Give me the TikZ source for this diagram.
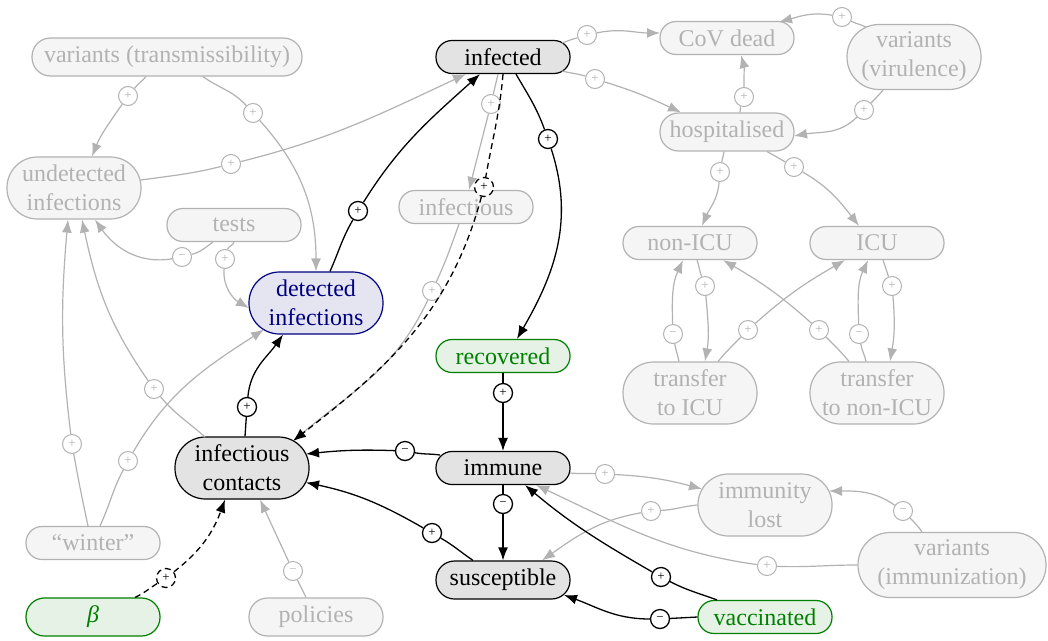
\documentclass[tikz,border=0pt]{standalone}
\usepackage{fontspec}
\setmainfont{Liberation Serif}
\usetikzlibrary{arrows.meta}
\definecolor{gfill}{gray}{0.96}
\definecolor{gline}{gray}{0.7}
\definecolor{bfill}{gray}{0.89}
\definecolor{mygreen}{RGB}{0,128,0}
\definecolor{mynavy}{RGB}{0,0,128}
\begin{document}
\begin{tikzpicture}[x=1pt,y=1pt,
 box/.style={rectangle, minimum width=134pt, minimum height=33pt, rounded corners=16pt, inner xsep=2pt, inner ysep=2pt, align=center, font=\fontsize{24}{29}\selectfont, line width=1.2pt},
 hd/.style={minimum height=38pt, rounded corners=18.5pt},
 two/.style={minimum height=62pt, rounded corners=30.5pt},
 twob/.style={minimum height=65pt, rounded corners=32pt},
 gbox/.style={box, draw=gline, fill=gfill, text=gline},
 bbox/.style={box, draw=black, fill=bfill, text=black},
 grbox/.style={box, draw=mygreen, fill=mygreen!10, text=mygreen},
 nbox/.style={box, draw=mynavy, fill=mynavy!10, text=mynavy},
 sg/.style={circle, draw=gline, fill=white, text=gline, inner sep=0pt, minimum size=19pt, line width=1pt, font=\fontsize{13}{13}\selectfont},
 sb/.style={sg, draw=black, text=black, line width=1.3pt},
 ge/.style={draw=gline, line width=1.2pt},
 ga/.style={ge, -{Latex[length=13pt,width=10pt]}},
 be/.style={draw=black, line width=1.3pt},
 ba/.style={be, -{Latex[length=13pt,width=10pt]}},
 dsh/.style={dash pattern=on 6pt off 4pt},
]
\useasboundingbox (0,0) rectangle (1048,-640);
% nodes
\node[gbox, hd, minimum width=270pt] (vt) at (167,-57) {variants (transmissibility)};
\node[bbox] (inf) at (503,-57) {infected};
\node[gbox] (cov) at (727,-38) {CoV dead};
\node[gbox, twob] (vv) at (914,-57) {variants\\(virulence)};
\node[gbox, hd] (hosp) at (727,-132) {hospitalised};
\node[gbox, two] (und) at (74,-188) {undetected\\infections};
\node[gbox] (tests) at (234,-225) {tests};
\node[gbox] (infs) at (466,-207) {infectious};
\node[nbox, two] (det) at (316,-303) {detected\\infections};
\node[gbox] (nonicu) at (690,-243) {non-ICU};
\node[gbox] (icu) at (877,-243) {ICU};
\node[gbox, two] (tti) at (690,-393) {transfer\\to ICU};
\node[gbox, two] (ttn) at (877,-393) {transfer\\to non-ICU};
\node[grbox] (rec) at (503,-356) {recovered};
\node[bbox, two] (ic) at (242,-468) {infectious\\contacts};
\node[bbox] (imm) at (503,-468) {immune};
\node[bbox, hd] (sus) at (503,-580) {susceptible};
\node[gbox] (win) at (93,-543) {“winter”};
\node[grbox, hd] (beta) at (93,-617) {\textit{β}};
\node[gbox, hd] (pol) at (316,-617) {policies};
\node[grbox] (vac) at (765,-617) {vaccinated};
\node[gbox, two] (il) at (765,-505) {immunity\\lost};
\node[gbox, twob, minimum width=188pt] (vi) at (952,-565) {variants\\(immunization)};
% sign nodes
\node[sg] (pa) at (128,-96) {+};
\node[sg] (pb) at (253,-113) {+};
\node[sg] (pc) at (231,-164) {+};
\node[sg] (pd) at (182,-257) {−};
\node[sg] (pe) at (225,-259) {+};
\node[sg] (pf) at (491,-104) {+};
\node[sg] (pg) at (432,-291) {+};
\node[sg] (ph) at (587,-35) {+};
\node[sg] (pi) at (595,-79) {+};
\node[sg] (pj) at (842,-17) {+};
\node[sg] (pk) at (864,-110) {+};
\node[sg] (pl) at (744,-97) {+};
\node[sg] (pm) at (720,-172) {+};
\node[sg] (pn) at (794,-167) {+};
\node[sg] (po) at (705,-286) {+};
\node[sg] (pp) at (673,-334) {−};
\node[sg] (pq) at (748,-330) {+};
\node[sg] (pr) at (819,-330) {+};
\node[sg] (ps) at (892,-286) {+};
\node[sg] (pt) at (859,-334) {−};
\node[sg] (pu) at (72,-444) {+};
\node[sg] (pv) at (128,-461) {+};
\node[sg] (pw) at (154,-389) {+};
\node[sg] (px) at (293,-571) {−};
\node[sg] (py) at (605,-474) {+};
\node[sg] (pz) at (651,-511) {+};
\node[sg] (paa) at (903,-511) {−};
\node[sg] (pab) at (767,-566) {+};
% gray edges
\draw[ge] ([xshift=-21pt]vt.south) to[out=228,in=50] (pa);
\draw[ga] (pa) to[out=235,in=68] ([xshift=18pt]und.north);
\draw[ge] ([xshift=36pt]vt.south) to[out=-36,in=132] (pb);
\draw[ga] (pb) to[out=-48,in=90] (det.north);
\draw[ge] ([shift={(67,8)}]und.center) to[out=8,in=194] (pc);
\draw[ga] (pc) to[out=14,in=205] ([xshift=-37pt]inf.south);
\draw[ge] ([xshift=-21pt]tests.south) to[out=215,in=15] (pd);
\draw[ga] (pd) to[out=190,in=-55] ([xshift=21pt]und.south);
\draw[ge] (tests.south) to[out=255,in=75] (pe);
\draw[ga] (pe) to[out=265,in=150] ([shift={(-67,-5)}]det.center);
\draw[ge] ([xshift=-5pt]inf.south) -- (pf);
\draw[ga] (pf) -- ([xshift=3pt]infs.north);
\draw[ge] ([xshift=-7pt]infs.south) to[out=250,in=65] (pg);
\draw[ga] (pg) to[out=245,in=40] ([shift={(51,27)}]ic.center);
\draw[ge] ([shift={(59,14)}]inf.center) to[out=20,in=196] (ph);
\draw[ga] (ph) to[out=12,in=180] ([shift={(-67,5)}]cov.center);
\draw[ge] ([shift={(59,-14)}]inf.center) to[out=-15,in=163] (pi);
\draw[ga] (pi) to[out=-17,in=155] ([xshift=-46pt]hosp.north);
\draw[ge] ([shift={(-48,30)}]vv.center) to[out=155,in=-25] (pj);
\draw[ga] (pj) to[out=170,in=15] ([shift={(52,16)}]cov.center);
\draw[ge] ([xshift=-31pt]vv.south) to[out=230,in=45] (pk);
\draw[ga] (pk) to[out=225,in=10] ([shift={(67,-4)}]hosp.center);
\draw[ge] ([xshift=13pt]hosp.north) to[out=70,in=250] (pl);
\draw[ga] (pl) to[out=90,in=-75] ([xshift=14pt]cov.south);
\draw[ge] ([xshift=-3pt]hosp.south) to[out=-98,in=80] (pm);
\draw[ga] (pm) to[out=-95,in=67] ([xshift=12pt]nonicu.north);
\draw[ge] ([xshift=40pt]hosp.south) to[out=-28,in=150] (pn);
\draw[ga] (pn) to[out=-30,in=128] ([xshift=-18pt]icu.north);
\draw[ge] ([xshift=7pt]nonicu.south) to[out=-70,in=110] (po);
\draw[ga] (po) to[out=-85,in=80] ([xshift=15pt]tti.north);
\draw[ge] ([xshift=-11pt]tti.north) to[out=102,in=-80] (pp);
\draw[ga] (pp) to[out=92,in=-115] ([xshift=-7pt]nonicu.south);
\draw[ge] ([xshift=28pt]tti.north) to[out=50,in=225] (pq);
\draw[ga] (pq) to[out=42,in=210] ([xshift=-32pt]icu.south);
\draw[ge] ([xshift=-28pt]ttn.north) to[out=130,in=-45] (pr);
\draw[ga] (pr) to[out=138,in=-30] ([xshift=33pt]nonicu.south);
\draw[ge] ([xshift=6pt]icu.south) to[out=-70,in=110] (ps);
\draw[ga] (ps) to[out=-85,in=80] ([xshift=13pt]ttn.north);
\draw[ge] ([xshift=-11pt]ttn.north) to[out=102,in=-80] (pt);
\draw[ga] (pt) to[out=92,in=-115] ([xshift=-9pt]icu.south);
\draw[ge] ([xshift=-5pt]win.north) to[out=102,in=-80] (pu);
\draw[ga] (pu) to[out=97,in=-95] ([xshift=-6pt]und.south);
\draw[ge] ([xshift=7pt]win.north) to[out=65,in=242] (pv);
\draw[ga] (pv) to[out=60,in=213] ([shift={(-52,-26.5)}]det.center);
\draw[ge] ([shift={(-37,31)}]ic.center) to[out=138,in=-50] (pw);
\draw[ga] (pw) to[out=125,in=-78] ([xshift=8pt]und.south);
\draw[ge] ([xshift=-10pt]pol.north) -- (px);
\draw[ga] (px) -- ([xshift=18pt]ic.south);
\draw[ge] ([shift={(67,-5)}]imm.center) to[out=-5,in=178] (py);
\draw[ga] (py) to[out=-3,in=165] ([shift={(-63,16)}]il.center);
\draw[ge] (il.west) to[out=185,in=3] (pz);
\draw[ga] (pz) to[out=190,in=35] ([xshift=39pt]sus.north);
\draw[ge] ([xshift=-30pt]vi.north) to[out=125,in=-45] (paa);
\draw[ga] (paa) to[out=145,in=0] ([shift={(64,14)}]il.center);
\draw[ge] (vi.west) to[out=180,in=-2] (pab);
\draw[ga] (pab) to[out=172,in=-25] ([xshift=33pt]imm.south);
% black sign nodes
\node[sb] (q1) at (247,-407) {+};
\node[sb] (q2) at (358,-211) {+};
\node[sb] (q3) at (548,-139) {+};
\node[sb, dsh] (q4) at (484,-187) {+};
\node[sb] (q5) at (503,-393) {+};
\node[sb] (q6) at (405,-451) {−};
\node[sb] (q7) at (432,-533) {+};
\node[sb] (q8) at (503,-504) {−};
\node[sb] (q9) at (661,-577) {+};
\node[sb] (q10) at (660,-619) {−};
\node[sb, dsh] (q11) at (166,-578) {+};
% black edges
\draw[be] ([xshift=3pt]ic.north) -- (q1);
\draw[ba] (q1) to[out=85,in=235] ([xshift=-33pt]det.south);
\draw[be] ([xshift=14pt]det.north) to[out=66,in=240] (q2);
\draw[ba] (q2) to[out=58,in=222] ([xshift=-23pt]inf.south);
\draw[be] ([xshift=13pt]inf.south) to[out=-60,in=110] (q3);
\draw[ba] (q3) to[out=-72,in=60] ([xshift=14pt]rec.north);
\draw[be, dsh] (inf.south) to[out=265,in=80] (q4);
\draw[ba, dsh] (q4) to[out=255,in=38] ([shift={(51,27)}]ic.center);
\draw[be] (rec.south) -- (q5);
\draw[ba] (q5) -- (imm.north);
\draw[be] ([shift={(-63,13)}]imm.center) to[out=172,in=-10] (q6);
\draw[ba] (q6) to[out=178,in=6] ([shift={(64,14)}]ic.center);
\draw[be] ([xshift=-30pt]sus.north) to[out=146,in=-30] (q7);
\draw[ba] (q7) to[out=150,in=-12] ([shift={(64,-14.5)}]ic.center);
\draw[be] (imm.south) -- (q8);
\draw[ba] (q8) -- (sus.north);
\draw[be] ([xshift=-48pt]vac.north) to[out=160,in=-27] (q9);
\draw[ba] (q9) to[out=150,in=-40] ([xshift=22pt]imm.south);
\draw[be] (vac.west) -- (q10);
\draw[ba] (q10) to[out=180,in=-20] ([shift={(61,-15)}]sus.center);
\draw[be, dsh] ([xshift=42pt]beta.north) to[out=25,in=212] (q11);
\draw[ba, dsh] (q11) to[out=38,in=250] ([xshift=-17pt]ic.south);
\end{tikzpicture}
\end{document}
